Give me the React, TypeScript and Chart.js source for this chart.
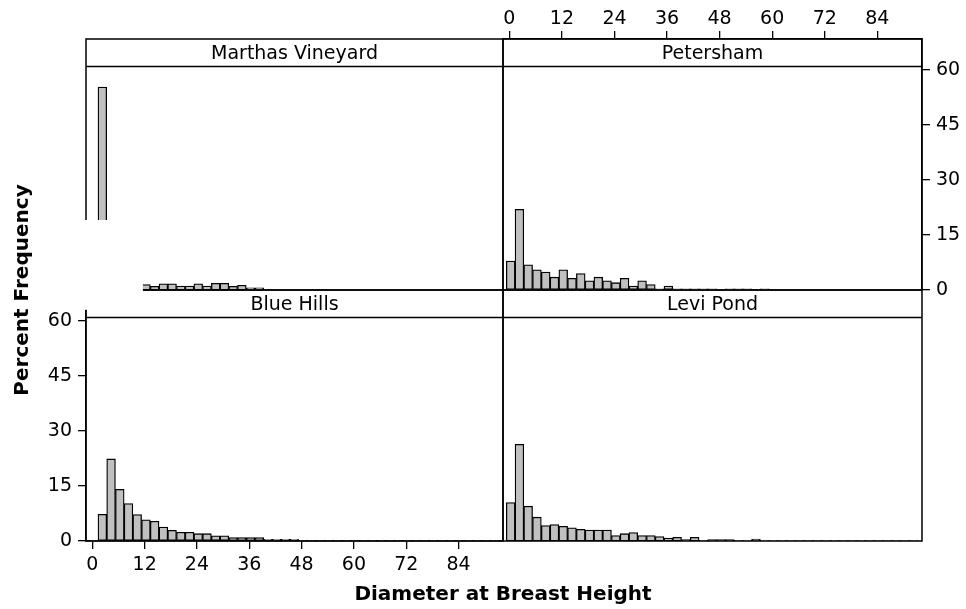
import { useEffect, useRef } from 'react';
import { Chart, registerables } from 'chart.js';

Chart.register(...registerables);

// ---------- data ----------
const binCenters = [
  0.3, 2.3, 4.3, 6.3, 8.3, 10.3, 12.3, 14.3, 16.3, 18.3, 20.3, 22.3, 24.3, 26.3, 28.3, 30.3,
  32.3, 34.3, 36.3, 38.3, 40.3, 42.3, 44.3, 46.3, 48.3, 50.3, 52.3, 54.3, 56.3, 58.3, 60.3, 62.3,
  64.3, 66.3, 68.3, 70.3, 72.3, 74.3, 76.3, 78.3, 80.3, 82.3, 84.3, 86.3, 88.3, 90.3, 92.3,
];

const marthasVineyard = [
  8.0, 55.4, 9.0, 4.5, 3.0, 2.0, 1.5, 1.0, 1.7, 1.7, 1.1, 1.1, 1.7, 1.1, 1.8, 1.8,
  1.0, 1.3, 0.6, 0.6, 0, 0, 0, 0, 0, 0, 0, 0, 0, 0, 0, 0,
  0, 0, 0, 0, 0, 0, 0, 0, 0, 0, 0, 0, 0, 0, 0,
];

const petersham = [
  7.9, 22.0, 6.9, 5.5, 4.9, 3.5, 5.5, 3.2, 4.5, 2.5, 3.5, 2.5, 2.0, 3.2, 1.1, 2.5,
  1.5, 0.3, 1.1, 0.3, 0.3, 0.3, 0.3, 0.3, 0, 0.3, 0.3, 0.3, 0, 0.3, 0, 0,
  0, 0, 0, 0, 0, 0, 0, 0, 0, 0, 0, 0, 0, 0, 0,
];

const blueHills = [
  0.2, 7.3, 22.4, 14.1, 10.2, 7.2, 5.8, 5.4, 3.8, 2.9, 2.4, 2.4, 2.0, 2.0, 1.4, 1.4,
  0.9, 0.9, 0.9, 0.9, 0.45, 0.45, 0.45, 0.45, 0.1, 0.1, 0.1, 0.1, 0.1, 0.1, 0.1, 0.1,
  0.1, 0.1, 0.1, 0.1, 0.1, 0.1, 0.1, 0.1, 0.1, 0.1, 0.1, 0.1, 0.1, 0.1, 0.1,
];

const leviPond = [
  10.5, 26.4, 9.5, 6.5, 4.2, 4.5, 4.0, 3.6, 3.2, 3.0, 3.0, 3.0, 1.5, 2.0, 2.3, 1.5,
  1.5, 1.2, 0.8, 1.0, 0.4, 1.0, 0.2, 0.4, 0.4, 0.4, 0.2, 0.1, 0.5, 0.1, 0.1, 0.1,
  0.1, 0.1, 0.1, 0.1, 0.1, 0.1, 0.1, 0.1, 0.1, 0.1, 0.1, 0.1, 0.1, 0.1, 0.1,
];

const xTickValues = [0, 12, 24, 36, 48, 60, 72, 84];
const yTickValues = [0, 15, 30, 45, 60];
const panelTitles = ['Marthas Vineyard', 'Petersham', 'Blue Hills', 'Levi Pond'];
const xAxisTitle = 'Diameter at Breast Height';
const yAxisTitle = 'Percent Frequency';

// ---------- layout / style ----------
const W = 966;
const H = 609;
const FONT = '"DejaVu Sans", Verdana, sans-serif';
const X_MIN = -1.45;
const X_MAX = 94.2;
const Y_MAX = 68.5;
const STRIP = 27.5;
// white occluding patch in the first panel (data units)
const MASK = { xMax: 11.6, yTop: 19.1, yBottom: -5.4 };

type Side = false | 'top' | 'bottom' | 'left' | 'right';
interface PanelSpec {
  title: string;
  values: number[];
  padding: { left: number; top: number; right: number; bottom: number };
  xSide: Side;
  ySide: Side;
  mask?: boolean;
  axisTitles?: boolean;
}

const panelPlugin = {
  id: 'panel',
  afterDatasetsDraw(chart: any, _args: any, opts: any) {
    const { ctx, chartArea: a } = chart;
    ctx.save();
    ctx.strokeStyle = '#000';
    ctx.lineWidth = 1.5;
    ctx.strokeRect(a.left, a.top, a.right - a.left, a.bottom - a.top);
    ctx.beginPath();
    ctx.moveTo(a.left, a.top + STRIP);
    ctx.lineTo(a.right, a.top + STRIP);
    ctx.stroke();
    ctx.fillStyle = '#000';
    ctx.font = `19px ${FONT}`;
    ctx.textAlign = 'center';
    ctx.textBaseline = 'middle';
    ctx.fillText(opts.title, (a.left + a.right) / 2, a.top + STRIP / 2 + 1);
    ctx.restore();
  },
  afterDraw(chart: any, _args: any, opts: any) {
    const { ctx, chartArea: a } = chart;
    ctx.save();
    if (opts.mask) {
      const xs = chart.scales.x;
      const ys = chart.scales.y;
      const x1 = xs.getPixelForValue(MASK.xMax);
      const y0 = ys.getPixelForValue(MASK.yTop);
      const y1 = ys.getPixelForValue(MASK.yBottom);
      ctx.fillStyle = '#fff';
      ctx.fillRect(a.left - 6, y0, x1 - (a.left - 6), y1 - y0);
    }
    if (opts.axisTitles) {
      ctx.fillStyle = '#000';
      ctx.font = `bold 20px ${FONT}`;
      ctx.textAlign = 'center';
      ctx.textBaseline = 'alphabetic';
      ctx.fillText(xAxisTitle, 503, 600);
      ctx.translate(28, 290);
      ctx.rotate(-Math.PI / 2);
      ctx.fillText(yAxisTitle, 0, 0);
    }
    ctx.restore();
  },
};

function makeConfig(p: PanelSpec): any {
  const tickFont = { family: FONT, size: 19 };
  const grid = {
    display: true,
    offset: false,
    drawOnChartArea: false,
    drawTicks: true,
    tickLength: 8,
    color: '#000',
    lineWidth: 1.3,
  };
  const border = { display: true, color: '#000', width: 1.5 };
  return {
    type: 'bar',
    data: {
      datasets: [
        {
          data: binCenters.map((x, i) => ({ x, y: p.values[i] })),
          backgroundColor: '#c0c0c0',
          borderColor: '#000',
          borderWidth: 1.3,
          borderSkipped: false,
          barPercentage: 1,
          categoryPercentage: 1,
        },
      ],
    },
    options: {
      animation: false,
      responsive: false,
      events: [],
      layout: { padding: p.padding },
      plugins: {
        legend: { display: false },
        tooltip: { enabled: false },
        title: { display: false },
        panel: { title: p.title, mask: !!p.mask, axisTitles: !!p.axisTitles },
      },
      scales: {
        x: {
          type: 'linear',
          min: X_MIN,
          max: X_MAX,
          offset: false,
          display: !!p.xSide,
          position: p.xSide || 'bottom',
          afterBuildTicks: (s: any) => {
            s.ticks = xTickValues.map((v) => ({ value: v }));
          },
          afterFit: (s: any) => {
            if (p.xSide) s.height = p.xSide === 'top' ? 39 : 40;
          },
          grid,
          border,
          ticks: {
            color: '#000',
            font: tickFont,
            padding: p.xSide === 'top' ? 1 : 5,
            maxRotation: 0,
            autoSkip: false,
          },
        },
        y: {
          type: 'linear',
          min: 0,
          max: Y_MAX,
          display: !!p.ySide,
          position: p.ySide || 'left',
          afterBuildTicks: (s: any) => {
            s.ticks = yTickValues.map((v) => ({ value: v }));
          },
          afterFit: (s: any) => {
            if (p.ySide) s.width = p.ySide === 'right' ? 44 : 40;
          },
          grid,
          border,
          ticks: { color: '#000', font: tickFont, padding: 6 },
        },
      },
    },
    plugins: [panelPlugin],
  };
}

// drawn bottom-up so the first panel (with its white patch) sits on top
const panels: PanelSpec[] = [
  {
    title: panelTitles[2],
    values: blueHills,
    padding: { left: 46, top: 290, right: 463, bottom: 28 },
    xSide: 'bottom',
    ySide: 'left',
    axisTitles: true,
  },
  {
    title: panelTitles[3],
    values: leviPond,
    padding: { left: 503, top: 290, right: 44, bottom: 68 },
    xSide: false,
    ySide: false,
  },
  {
    title: panelTitles[1],
    values: petersham,
    padding: { left: 503, top: 0, right: 0, bottom: 319 },
    xSide: 'top',
    ySide: 'right',
  },
  {
    title: panelTitles[0],
    values: marthasVineyard,
    padding: { left: 86, top: 39, right: 463, bottom: 319 },
    xSide: false,
    ySide: false,
    mask: true,
  },
];

function Panel({ spec }: { spec: PanelSpec }) {
  const ref = useRef<HTMLCanvasElement | null>(null);
  useEffect(() => {
    if (!ref.current) return;
    const chart = new Chart(ref.current, makeConfig(spec));
    return () => chart.destroy();
  }, [spec]);
  return (
    <canvas
      ref={ref}
      width={W}
      height={H}
      style={{ position: 'absolute', left: 0, top: 0, width: W, height: H }}
    />
  );
}

export default function App() {
  return (
    <div
      style={{
        position: 'absolute',
        left: 0,
        top: 0,
        width: W,
        height: H,
        background: '#fff',
        overflow: 'hidden',
      }}
    >
      {panels.map((p) => (
        <Panel key={p.title} spec={p} />
      ))}
    </div>
  );
}
